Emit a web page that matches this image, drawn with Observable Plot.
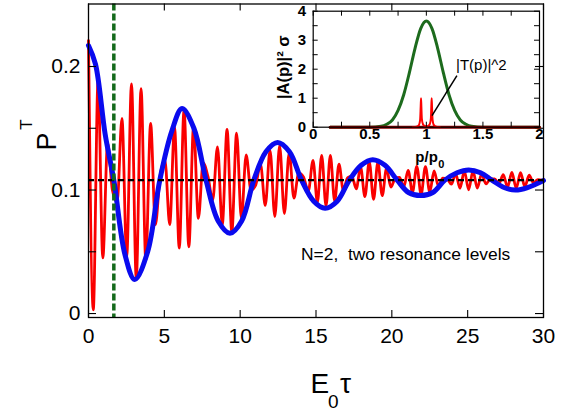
<!DOCTYPE html>
<html><head><meta charset="utf-8">
<script src="https://cdn.jsdelivr.net/npm/d3@7"></script>
<script src="https://cdn.jsdelivr.net/npm/@observablehq/plot@0.6"></script>
<style>
html,body{margin:0;padding:0;background:#fff;}
#wrap{position:relative;width:572px;height:412px;overflow:hidden;background:#fff;}
#wrap svg{position:absolute;}
</style></head><body><div id="wrap"></div>
<script>
// ---------- main chart data ----------
const mainXTicks = [0, 5, 10, 15, 20, 25, 30];
const mainYTicks = [0, 0.05, 0.1, 0.15, 0.2];
const mainYTickLabels = [0, 0.1, 0.2];
const meanLevel = [0.108];
const markerX = [1.67];

const blueX = [0, 0.46, 1.1, 1.67, 2.4, 3.05, 3.9, 4.7, 5.5, 6.17, 6.95, 7.75, 8.55, 9.33, 10.1, 10.9, 11.7, 12.47, 13.25, 14.05, 14.85, 15.6, 16.4, 17.2, 17.98, 18.74, 19.55, 20.35, 21.1, 21.9, 22.7, 23.5, 24.3, 25.07, 25.85, 26.6, 27.4, 28.15, 28.95, 30];
const blueY = [0.217, 0.202, 0.145, 0.108, 0.048, 0.0275, 0.05, 0.108, 0.148, 0.166, 0.15, 0.108, 0.075, 0.065, 0.075, 0.108, 0.131, 0.1385, 0.131, 0.108, 0.091, 0.0853, 0.091, 0.108, 0.12, 0.1245, 0.12, 0.108, 0.098, 0.0955, 0.098, 0.108, 0.114, 0.1163, 0.114, 0.108, 0.102, 0.100, 0.102, 0.1077];

const redX = [0, 0.315, 0.63, 0.945, 1.26, 1.575, 1.89, 2.205, 2.52, 2.835, 3.15, 3.465, 3.78, 4.095, 4.41, 4.725, 5.04, 5.355, 5.67, 5.985, 6.3, 6.615, 6.93, 7.245, 7.56, 7.875, 8.19, 8.505, 8.82, 9.135, 9.45, 9.765, 10.08, 10.395, 10.71, 11.025, 11.34, 11.655, 11.97, 12.285, 12.6, 12.915, 13.23, 13.545, 13.86, 14.175, 14.49, 14.805, 15.09, 15.375, 15.66, 15.945, 16.23, 16.515, 16.8, 17.085, 17.37, 17.655, 17.94, 18.225, 18.51, 18.795, 19.08, 19.365, 19.65, 19.935, 20.22, 20.505, 20.79, 21.075, 21.36, 21.645, 21.93, 22.215, 22.5, 22.785, 23.07, 23.355, 23.64, 23.925, 24.21, 24.495, 24.78, 25.065, 25.35, 25.635, 25.92, 26.205, 26.49, 26.775, 27.06, 27.345, 27.63, 27.915, 28.2, 28.485, 28.77, 29.055, 29.34, 29.625, 29.91, 30];
const redY = [0.221, 0.003, 0.188, 0.045, 0.138, 0.100, 0.090, 0.158, 0.046, 0.186, 0.028, 0.182, 0.043, 0.154, 0.072, 0.112, 0.124, 0.072, 0.151, 0.053, 0.165, 0.054, 0.152, 0.077, 0.122, 0.111, 0.092, 0.135, 0.072, 0.149, 0.066, 0.146, 0.077, 0.1285, 0.100, 0.104, 0.121, 0.0875, 0.132, 0.0785, 0.136, 0.081, 0.130, 0.0935, 0.1136, 0.1106, 0.099, 0.124, 0.090, 0.128, 0.087, 0.128, 0.091, 0.121, 0.100, 0.110, 0.111, 0.101, 0.1186, 0.0946, 0.123, 0.0925, 0.1226, 0.0954, 0.1175, 0.1024, 0.1093, 0.1103, 0.1027, 0.1159, 0.0981, 0.1191, 0.0965, 0.119, 0.0984, 0.1154, 0.1033, 0.1096, 0.1091, 0.1047, 0.1131, 0.1014, 0.1155, 0.1002, 0.1154, 0.1015, 0.113, 0.105, 0.1089, 0.1091, 0.1051, 0.1125, 0.1024, 0.1143, 0.1015, 0.1141, 0.1027, 0.112, 0.1057, 0.1085, 0.108, 0.108];

// ---------- inset data ----------
const insetXTicks = [0, 0.5, 1, 1.5, 2];
const insetXMinor = [0, 0.25, 0.5, 0.75, 1, 1.25, 1.5, 1.75, 2];
const insetYTicks = [0, 1, 2, 3, 4];
const insetYMinor = [0, 0.5, 1, 1.5, 2, 2.5, 3, 3.5, 4];
const gaussP = [0.15, 0.5, 0.6, 0.65, 0.7, 0.75, 0.8, 0.85, 0.9, 0.95, 1.0, 1.05, 1.1, 1.15, 1.2, 1.25, 1.3, 1.35, 1.4, 1.5, 2.0];
const gaussA = [0, 0, 0.03, 0.10, 0.25, 0.58, 1.12, 1.88, 2.72, 3.40, 3.66, 3.40, 2.72, 1.88, 1.12, 0.58, 0.25, 0.10, 0.03, 0, 0];
const baseP = [0.15, 2.0];
const baseA = [0, 0];
const spikeP = [0.88, 0.92, 0.935, 0.945, 0.95, 0.953, 0.956, 0.96, 0.97, 0.985, 1.0, 1.015, 1.03, 1.04, 1.044, 1.047, 1.05, 1.055, 1.065, 1.08, 1.12];
const spikeT = [0.0, 0.03, 0.08, 0.25, 0.7, 1.0, 0.7, 0.3, 0.1, 0.04, 0.03, 0.04, 0.1, 0.3, 0.7, 1.0, 0.7, 0.25, 0.08, 0.03, 0.0];
const pointerLine = [{x1: 1.27, y1: 1.78, x2: 1.05, y2: 0.40}];
const pointerLabel = [{x: 1.262, y: 2.13, text: "|T(p)|^2"}];

// ---------- build ----------
const zip = (xs, ys) => xs.map((x, i) => ({x, y: ys[i]}));
const red = zip(redX, redY), blue = zip(blueX, blueY);
const gauss = zip(gaussP, gaussA), base = zip(baseP, baseA), spikes = zip(spikeP, spikeT);
const FONT = "'Liberation Sans', Arial, Helvetica, sans-serif";

const W = 572, H = 412, mL = 88, mR = 29, mT = 3.5, mB = 95;
const pW = W - mL - mR, pH = H - mT - mB;
const TL = {frameAnchor: "top-left", lineAnchor: "bottom", textAnchor: "start", fill: "black"};

const main = Plot.plot({
  width: W, height: H,
  marginLeft: mL, marginRight: mR, marginTop: mT, marginBottom: mB,
  x: {domain: [0, 30], axis: null},
  y: {domain: [-0.0032, 0.2506], axis: null},
  style: {fontFamily: FONT, background: "white", overflow: "visible"},
  marks: [
    Plot.line(red, {x: "x", y: "y", stroke: "#fa0000", strokeWidth: 2.8, curve: "monotone-x", strokeLinejoin: "round"}),
    Plot.line(blue, {x: "x", y: "y", stroke: "#0a0aee", strokeWidth: 5, curve: "catmull-rom"}),
    Plot.ruleY(meanLevel, {stroke: "black", strokeWidth: 2.2, strokeDasharray: "6,4"}),
    Plot.ruleX(markerX, {stroke: "#146a1c", strokeWidth: 3.5, strokeDasharray: "7,3"}),
    Plot.frame({stroke: "black", strokeWidth: 1.3}),
    Plot.tickX(mainXTicks, {x: d => d, insetTop: pH - 7, stroke: "black", strokeWidth: 1.1}),
    Plot.tickX(mainXTicks, {x: d => d, insetBottom: pH - 7, stroke: "black", strokeWidth: 1.1}),
    Plot.tickY(mainYTicks, {y: d => d, insetRight: pW - 8, stroke: "black", strokeWidth: 1.1}),
    Plot.tickY(mainYTicks, {y: d => d, insetLeft: pW - 8, stroke: "black", strokeWidth: 1.1}),
    Plot.text(mainXTicks, {x: d => d, frameAnchor: "bottom", dy: 25.5, text: d => String(d), fontSize: 21, fill: "black"}),
    Plot.text(mainYTickLabels, {y: d => d, frameAnchor: "left", dx: -8, textAnchor: "end", text: d => String(d), fontSize: 21, fill: "black"}),
    // axis titles
    Plot.text(["E"], {...TL, text: d => d, dx: 222, dy: 388.5, fontSize: 28}),
    Plot.text(["0"], {...TL, text: d => d, dx: 239.5, dy: 403.5, fontSize: 19}),
    Plot.text(["τ"], {...TL, text: d => d, dx: 251.5, dy: 388.5, fontSize: 28}),
    Plot.text(["P"], {frameAnchor: "top-left", textAnchor: "middle", text: d => d, dx: 36.4 - mL, dy: 141 - mT, rotate: -90, fontSize: 27, fill: "black"}),
    Plot.text(["T"], {frameAnchor: "top-left", textAnchor: "middle", text: d => d, dx: 19.5 - mL, dy: 124 - mT, rotate: -90, fontSize: 17, fill: "black"}),
    Plot.text(["N=2,\u00a0 two resonance levels"], {...TL, text: d => d, dx: 212.5, dy: 256, fontSize: 17.4})
  ]
});
main.style.left = "0px"; main.style.top = "0px";

const iW = 300, iH = 175, iL = 62.7, iR = 11, iT = 10.7, iB = 48.3;
const ipW = iW - iL - iR, ipH = iH - iT - iB;
const inset = Plot.plot({
  width: iW, height: iH,
  marginLeft: iL, marginRight: iR, marginTop: iT, marginBottom: iB,
  x: {domain: [0, 2], axis: null},
  y: {domain: [0, 4], axis: null},
  style: {fontFamily: FONT, background: "transparent", overflow: "visible"},
  marks: [
    Plot.line(gauss, {x: "x", y: "y", stroke: "#1d6b1d", strokeWidth: 3, curve: "monotone-x"}),
    Plot.line(base, {x: "x", y: "y", stroke: "#8b0000", strokeWidth: 3}),
    Plot.line(spikes, {x: "x", y: "y", stroke: "#ff0000", strokeWidth: 2, curve: "monotone-x"}),
    Plot.frame({stroke: "black", strokeWidth: 1.2}),
    Plot.tickX(insetXMinor, {x: d => d, insetTop: ipH - 5, stroke: "black"}),
    Plot.tickX(insetXMinor, {x: d => d, insetBottom: ipH - 5, stroke: "black"}),
    Plot.tickY(insetYMinor, {y: d => d, insetRight: ipW - 5, stroke: "black"}),
    Plot.tickY(insetYMinor, {y: d => d, insetLeft: ipW - 5, stroke: "black"}),
    Plot.text(insetXTicks, {x: d => d, frameAnchor: "bottom", dy: 11.5, text: d => String(d), fontSize: 15, fontWeight: "bold", fill: "black"}),
    Plot.text(insetYTicks, {y: d => d, frameAnchor: "left", dx: -7, textAnchor: "end", text: d => String(d), fontSize: 15, fontWeight: "bold", fill: "black"}),
    Plot.link(pointerLine, {x1: "x1", y1: "y1", x2: "x2", y2: "y2", stroke: "black", strokeWidth: 1.5}),
    Plot.text(pointerLabel, {x: "x", y: "y", text: "text", textAnchor: "start", fontSize: 15, fill: "black"}),
    Plot.text(["p/p"], {frameAnchor: "bottom", text: d => d, dx: 11.5, dy: 34.5, lineAnchor: "bottom", textAnchor: "end", fontSize: 15, fontWeight: "bold", fill: "black"}),
    Plot.text(["0"], {frameAnchor: "bottom", text: d => d, dx: 12, dy: 41, lineAnchor: "bottom", textAnchor: "start", fontSize: 11, fontWeight: "bold", fill: "black"}),
    Plot.text(["|A(p)|² σ"], {frameAnchor: "top-left", textAnchor: "middle", text: d => d, dx: -36, dy: 56, rotate: -90, fontSize: 16.5, fontWeight: "bold", fill: "black"})
  ]
});
inset.style.left = "250px"; inset.style.top = "0px";

const wrap = document.getElementById("wrap");
wrap.appendChild(main);
wrap.appendChild(inset);
</script></body></html>
